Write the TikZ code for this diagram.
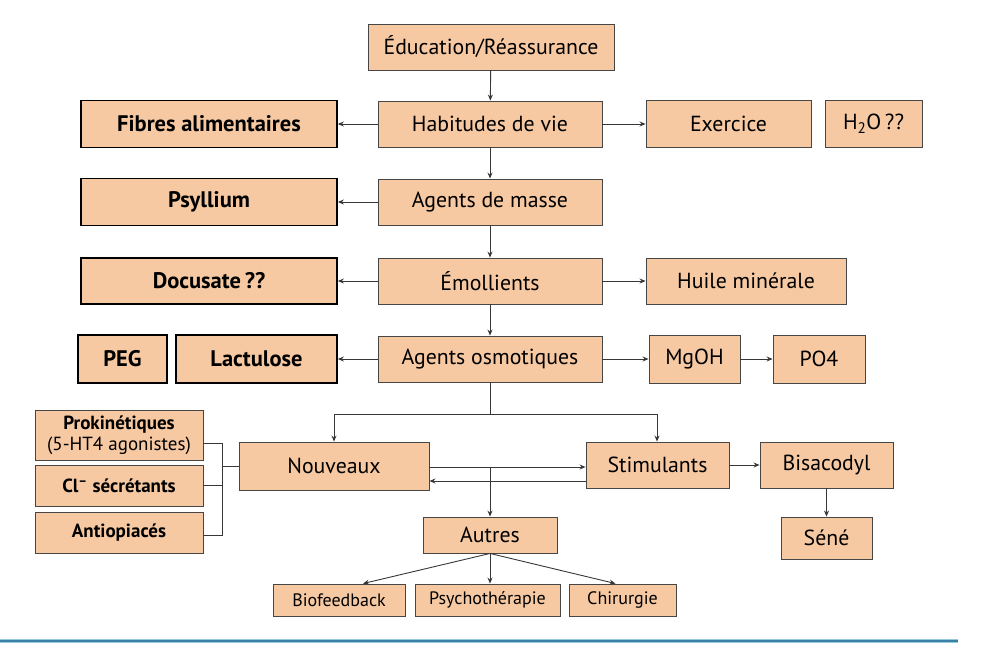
\documentclass[tikz,border=0pt]{standalone}
\usepackage{fontspec}
\setmainfont{PT Sans}
\usetikzlibrary{arrows.meta,calc}
\definecolor{peach}{RGB}{246,201,162}
\definecolor{edge}{RGB}{70,70,70}
\definecolor{arrc}{RGB}{55,55,55}
\definecolor{blueA}{RGB}{150,200,222}
\definecolor{blueB}{RGB}{60,128,168}
\begin{document}
\begin{tikzpicture}[x=1pt,y=-1pt,
  box/.style={draw=edge,fill=peach,line width=0.9pt,inner sep=0pt,font=\fontsize{21.8}{24}\selectfont},
  bbox/.style={draw=black,fill=peach,line width=1.7pt,inner sep=0pt,font=\fontsize{22.5}{25}\selectfont\bfseries},
  sbox/.style={draw=edge,fill=peach,line width=0.9pt,inner sep=0pt,font=\fontsize{18}{20}\selectfont},
  lbox/.style={draw=edge,fill=peach,line width=0.9pt,inner sep=0pt,align=center,font=\fontsize{19}{21}\selectfont},
  arr/.style={draw=arrc,line width=0.9pt,-{Stealth[length=6pt,width=5pt]}},
  ln/.style={draw=arrc,line width=0.9pt}]
\useasboundingbox (0,0) rectangle (982,646);
% main column
\node[box,minimum width=246pt,minimum height=46pt] (edu) at (491,47) {Éducation/Réassurance};
\node[box,minimum width=224pt,minimum height=46pt] (hab) at (490,124) {Habitudes de vie};
\node[box,minimum width=224pt,minimum height=46pt] (mas) at (490,202) {Agents de masse};
\node[box,minimum width=224pt,minimum height=46pt] (emo) at (490,281) {Émollients};
\node[box,minimum width=224pt,minimum height=46pt] (osm) at (490,359) {Agents osmotiques};
% left bold
\node[bbox,minimum width=256pt,minimum height=47pt] (fib) at (209,124) {Fibres alimentaires};
\node[bbox,minimum width=256pt,minimum height=47pt] (psy) at (209,202) {Psyllium};
\node[bbox,minimum width=256pt,minimum height=46pt] (doc) at (209,281) {Docusate\,??};
\node[bbox,minimum width=89pt,minimum height=48pt] (peg) at (122.5,359) {PEG};
\node[bbox,minimum width=161pt,minimum height=48pt] (lac) at (256.5,359) {Lactulose};
% right
\node[box,minimum width=165pt,minimum height=47pt] (exe) at (728.5,124) {Exercice};
\node[box,minimum width=97pt,minimum height=47pt] (h2o) at (873.5,124) {H\textsubscript{2}O\,??};
\node[box,minimum width=200pt,minimum height=46pt] (hui) at (746,281) {Huile minérale};
\node[box,minimum width=91pt,minimum height=48pt] (mgo) at (694.5,359) {MgOH};
\node[box,minimum width=92pt,minimum height=48pt] (po4) at (819,359) {PO4};
% lower level
\node[box,minimum width=190pt,minimum height=48pt] (nou) at (334,466) {Nouveaux};
\node[box,minimum width=143pt,minimum height=46pt] (sti) at (657.5,465) {Stimulants};
\node[box,minimum width=133pt,minimum height=46pt] (bis) at (826.5,465) {Bisacodyl};
\node[box,minimum width=91pt,minimum height=42pt] (sen) at (826.5,538) {Séné};
\node[box,minimum width=134pt,minimum height=36pt] (aut) at (490,535) {Autres};
\node[sbox,minimum width=132pt,minimum height=32pt] (bio) at (339,600) {Biofeedback};
\node[sbox,minimum width=145pt,minimum height=32pt] (psh) at (487.5,600) {Psychothérapie};
\node[sbox,minimum width=107pt,minimum height=32pt] (chi) at (622.5,600) {Chirurgie};
% left small
\node[lbox,minimum width=168pt,minimum height=50pt] (pro) at (119,435) {\textbf{Prokinétiques}\\(5-HT4 agonistes)};
\node[lbox,minimum width=168pt,minimum height=41pt,font=\fontsize{19}{21}\selectfont\bfseries] (cls) at (119,485.5) {Cl\textsuperscript{–} sécrétants};
\node[lbox,minimum width=168pt,minimum height=41pt,font=\fontsize{19}{21}\selectfont\bfseries] (ant) at (119,532.5) {Antiopiacés};
% arrows main column
\draw[arr] (edu) -- (hab);
\draw[arr] (hab) -- (mas);
\draw[arr] (mas) -- (emo);
\draw[arr] (emo) -- (osm);
\draw[arr] (hab) -- (fib);
\draw[arr] (hab) -- (exe);
\draw[arr] (mas) -- (psy);
\draw[arr] (emo) -- (doc);
\draw[arr] (emo) -- (hui);
\draw[arr] (osm) -- (lac);
\draw[arr] (osm) -- (mgo);
\draw[arr] (mgo) -- (po4);
% branch
\coordinate (br) at (490,414);
\draw[ln] (osm.south) -- (br);
\draw[arr] (br) -| (nou.north);
\draw[arr] (br) -| ([xshift=-0.5pt]sti.north);
% nouveaux <-> stimulants
\coordinate (up) at (490,467);
\draw[arr] (nou.east |- up) -- (sti.west |- up);
\coordinate (lo) at (490,481);
\draw[arr] (sti.west |- lo) -- (nou.east |- lo);
\draw[arr] (up) -- (aut.north);
\draw[arr] (sti) -- (bis);
\draw[arr] (bis) -- (sen);
% autres
\draw[arr] (aut.south) -- ([xshift=24pt]bio.north);
\draw[arr] (aut.south) -- (aut.south |- psh.north);
\draw[arr] (aut.south) -- ([xshift=-7pt]chi.north);
% bracket
\coordinate (bk1) at (222,443);
\coordinate (bk3) at (222,535);
\draw[ln] (pro.east |- bk1) -- (bk1) -- (bk3) -- (ant.east |- bk3);
\draw[ln] (cls.east) -- (cls.east -| bk1);
\draw[ln] (nou.west) -- (nou.west -| bk1);
% bottom rule
\coordinate (r0) at (0,641);
\coordinate (r1) at (958,641);
\draw[blueA,line width=3.2pt] (r0) -- (r1);
\draw[blueB,line width=1.2pt] (r0) -- (r1);
\end{tikzpicture}
\end{document}
